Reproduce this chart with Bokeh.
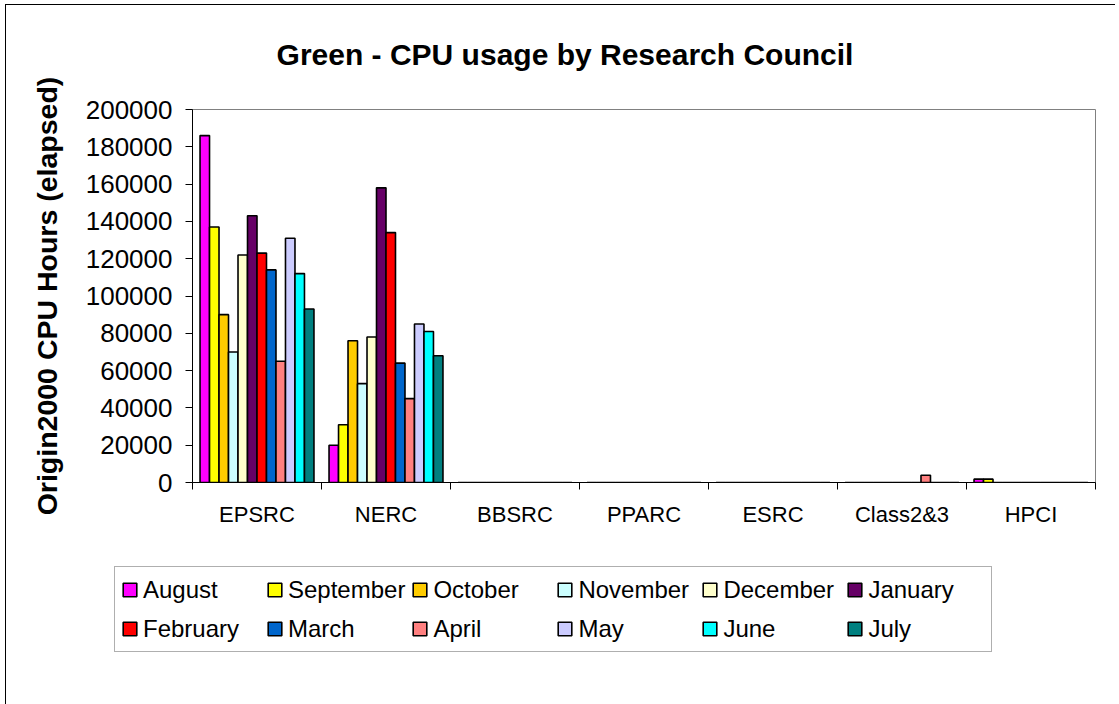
from bokeh.plotting import figure
from bokeh.layouts import column
from bokeh.models import (ColumnDataSource, Range1d, FixedTicker, BasicTickFormatter,
                          Legend, LegendItem, Label)
from bokeh.transform import dodge
from bokeh.embed import file_html
from bokeh.resources import INLINE

categories = ["EPSRC", "NERC", "BBSRC", "PPARC", "ESRC", "Class2&3", "HPCI"]
months = ["August", "September", "October", "November", "December", "January",
          "February", "March", "April", "May", "June", "July"]

august    = [186000, 20000, 0, 0, 0, 0, 1800]
september = [137000, 31000, 0, 0, 0, 0, 1800]
october   = [90000, 76000, 0, 0, 0, 0, 0]
november  = [70000, 53000, 0, 0, 0, 0, 0]
december  = [122000, 78000, 0, 0, 0, 0, 0]
january   = [143000, 158000, 0, 0, 0, 0, 0]
february  = [123000, 134000, 0, 0, 0, 0, 0]
march     = [114000, 64000, 0, 0, 0, 0, 0]
april     = [65000, 45000, 0, 0, 0, 3900, 0]
may       = [131000, 85000, 0, 0, 0, 0, 0]
june      = [112000, 81000, 0, 0, 0, 0, 0]
july      = [93000, 68000, 0, 0, 0, 0, 0]

y_ticks = list(range(0, 200001, 20000))

colors = ["#FF00FF", "#FFFF00", "#FFCC00", "#CCFFFF", "#FFFFCC", "#660066",
          "#FF0000", "#0066CC", "#FF8080", "#CCCCFF", "#00FFFF", "#008080"]
series = [august, september, october, november, december, january,
          february, march, april, may, june, july]

FONT = "Liberation Sans"
W = 1109

data = {"x": [i + 0.5 for i in range(len(categories))]}
for m, vals in zip(months, series):
    data[m] = vals
source = ColumnDataSource(data)


def bare(fig):
    fig.outline_line_color = None
    fig.background_fill_color = "white"
    fig.border_fill_color = "white"
    fig.xgrid.grid_line_color = None
    fig.ygrid.grid_line_color = None
    fig.frame_align = False


# ---------- title strip ----------
pt = figure(width=W, height=68, min_border=0,
            x_range=Range1d(0, 1), y_range=Range1d(0, 1),
            x_axis_location=None, y_axis_location=None,
            output_backend="svg", toolbar_location=None, tools="")
bare(pt)
pt.add_layout(Label(x=558.5, y=19.5, x_units="screen", y_units="screen",
                    text="Green - CPU usage by Research Council",
                    text_font=FONT, text_font_style="bold", text_font_size="30px",
                    text_align="center", text_baseline="alphabetic",
                    text_color="black"))

# ---------- main chart ----------
p = figure(frame_width=903, frame_height=373,
           min_border_left=186, min_border_right=20,
           min_border_top=36, min_border_bottom=78,
           x_range=Range1d(0, len(categories)), y_range=Range1d(0, 200000),
           output_backend="svg", toolbar_location=None, tools="")
p.background_fill_color = "white"
p.border_fill_color = "white"
p.outline_line_color = "#808080"
p.outline_line_width = 1
p.xgrid.grid_line_color = None
p.ygrid.grid_line_color = None
p.frame_align = False

bw = 0.0736
for j, (m, c) in enumerate(zip(months, colors)):
    p.vbar(x=dodge("x", (j - 5.5) * bw, range=p.x_range), top=m, bottom=0,
           width=bw, source=source, fill_color=c, line_color="black",
           line_width=1.6)

# y axis
ya = p.yaxis[0]
ya.ticker = FixedTicker(ticks=y_ticks)
ya.formatter = BasicTickFormatter(use_scientific=False)
ya.major_label_text_font = FONT
ya.major_label_text_font_size = "26px"
ya.major_label_text_color = "black"
ya.major_tick_out = 7
ya.major_tick_in = 0
ya.major_label_standoff = 13
ya.minor_tick_line_color = None
ya.axis_line_color = "black"
ya.major_tick_line_color = "black"
ya.axis_label = "Origin2000 CPU Hours (elapsed)"
ya.axis_label_text_font = FONT
ya.axis_label_text_font_style = "bold"
ya.axis_label_text_font_size = "28.5px"
ya.axis_label_text_color = "black"
ya.axis_label_standoff = 20

# x axis
xa = p.xaxis[0]
xa.ticker = FixedTicker(ticks=[i + 0.5 for i in range(len(categories))],
                        minor_ticks=list(range(len(categories) + 1)))
xa.major_label_overrides = {i + 0.5: c for i, c in enumerate(categories)}
xa.major_label_text_font = FONT
xa.major_label_text_font_size = "22px"
xa.major_label_text_color = "black"
xa.major_tick_out = 0
xa.major_tick_in = 0
xa.major_tick_line_color = None
xa.minor_tick_out = 7
xa.minor_tick_in = 0
xa.minor_tick_line_color = "black"
xa.major_label_standoff = 12
xa.axis_line_color = "black"

# ---------- legend strip ----------
pl = figure(width=W, height=144, min_border=0,
            x_range=Range1d(0, 1), y_range=Range1d(0, 1),
            x_axis_location=None, y_axis_location=None,
            output_backend="svg", toolbar_location=None, tools="")
bare(pl)
# legend proxies: one zero-size bar each, hidden beneath the legend box
proxy = ColumnDataSource({"x": [0.5], "y": [0.5]})
items = []
for m, c in zip(months, colors):
    r = pl.vbar(x="x", top="y", bottom="y", width=0.0001, source=proxy,
                fill_color=c, line_color="black", line_width=1.6)
    items.append(LegendItem(label=m, renderers=[r]))

legend = Legend(items=items, location=(108, 52), orientation="horizontal",
                ncols=6, padding=6, spacing=6, glyph_width=17, glyph_height=17,
                label_standoff=5, label_width=117, label_height=33,
                label_text_font=FONT, label_text_font_size="24px",
                label_text_color="black", border_line_color="#606060",
                border_line_width=1.5, background_fill_color="white", margin=0)
pl.add_layout(legend)

layout = column(pt, p, pl, spacing=0,
                styles={"border-left": "1px solid #000000",
                        "border-top": "1px solid #000000",
                        "margin-left": "5px", "margin-top": "4px",
                        "background-color": "white"})

open("out.html", "w").write(file_html(layout, INLINE))
